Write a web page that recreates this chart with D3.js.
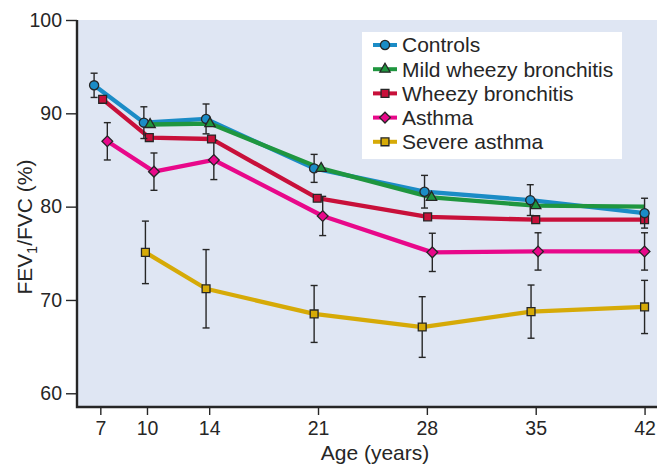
<!DOCTYPE html>
<html>
<head>
<meta charset="utf-8">
<script src="https://cdn.jsdelivr.net/npm/d3@7"></script>
<style>
  body { margin: 0; background: #fff; }
  svg { display: block; font-family: "Liberation Sans", Arial, sans-serif; }
</style>
</head>
<body>
<svg id="chart" width="667" height="468"></svg>
<script>
// tick labels
const ageTicks = [7, 10, 14, 21, 28, 35, 42];
const fevTicks = [60, 70, 80, 90, 100];

// series (ages are slightly offset per group, as in the figure)
const controlsAge = [6.6, 9.8, 13.8, 20.75, 27.85, 34.65, 42];
const controlsFev = [93.0, 89.0, 89.4, 84.1, 81.6, 80.7, 79.3];
const controlsErr = [1.3, 1.7, 1.6, 1.5, 1.75, 1.65, 1.6];

const mildAge = [10.2, 14.05, 21.2, 28.3, 35.0, 42];
const mildFev = [88.8, 88.9, 84.1, 81.0, 80.1, 80.0];
const mildShown = [true, true, true, true, true, false];

const wheezyAge = [7.15, 10.15, 14.15, 20.95, 28.05, 35, 42];
const wheezyFev = [91.5, 87.4, 87.25, 80.9, 78.9, 78.6, 78.6];

const asthmaAge = [7.45, 10.45, 14.3, 21.3, 28.35, 35.15, 42];
const asthmaFev = [87.0, 83.75, 85.0, 79.0, 75.1, 75.2, 75.2];
const asthmaErr = [2.0, 2.0, 2.1, 2.1, 2.05, 2.0, 2.0];

const severeAge = [9.9, 13.8, 20.75, 27.7, 34.7, 42];
const severeFev = [75.1, 71.2, 68.5, 67.1, 68.75, 69.25];
const severeErr = [3.35, 4.2, 3.05, 3.25, 2.85, 2.85];

const series = [
  { name: "Controls", age: controlsAge, fev: controlsFev, err: controlsErr, color: "#1b8cc6", shape: "circle" },
  { name: "Mild wheezy bronchitis", age: mildAge, fev: mildFev, err: null, shown: mildShown, color: "#1f963f", shape: "triangle" },
  { name: "Wheezy bronchitis", age: wheezyAge, fev: wheezyFev, err: null, color: "#c8103a", shape: "square" },
  { name: "Asthma", age: asthmaAge, fev: asthmaFev, err: asthmaErr, color: "#e8088a", shape: "diamond" },
  { name: "Severe asthma", age: severeAge, fev: severeFev, err: severeErr, color: "#d6aa07", shape: "square" }
];

const svg = d3.select("#chart");
const plotL = 77, plotR = 657, plotT = 20, plotB = 407;

const x = d3.scaleLinear().domain([5.5, 42.8]).range([plotL, plotR]);
const y = d3.scaleLinear().domain([58.53, 100]).range([plotB, plotT]);

const ink = "#262626";

// plot background
svg.append("rect")
  .attr("x", plotL).attr("y", plotT)
  .attr("width", plotR - plotL).attr("height", plotB - plotT)
  .attr("fill", "#dfe6f3");

function symbolPath(shape) {
  if (shape === "circle") return d3.symbol(d3.symbolCircle, 66)();
  if (shape === "triangle") return d3.symbol(d3.symbolTriangle, 46)();
  if (shape === "square") return d3.symbol(d3.symbolSquare, 62)();
  return d3.symbol(d3.symbolSquare, 58)(); // rotated below for diamond
}

const line = d3.line().x(d => x(d[0])).y(d => y(d[1]));

// lines
const lineOrder = [4, 3, 2, 0, 1];
lineOrder.forEach(i => {
  const s = series[i];
  svg.append("path")
    .datum(s.age.map((a, j) => [a, s.fev[j]]))
    .attr("d", line)
    .attr("fill", "none")
    .attr("stroke", s.color)
    .attr("stroke-width", 4.3)
    .attr("stroke-linejoin", "round");
});

// error bars and markers
const markOrder = [4, 3, 2, 0, 1];
markOrder.forEach(i => {
  const s = series[i];
  const pts = s.age.map((a, j) => ({ a: a, v: s.fev[j], e: s.err ? s.err[j] : 0, show: s.shown ? s.shown[j] : true }));
  if (s.err) {
    const g = svg.append("g").attr("stroke", ink).attr("stroke-width", 1.4);
    pts.forEach(p => {
      const cx = x(p.a);
      g.append("line").attr("x1", cx).attr("x2", cx).attr("y1", y(p.v + p.e)).attr("y2", y(p.v - p.e));
      g.append("line").attr("x1", cx - 3.5).attr("x2", cx + 3.5).attr("y1", y(p.v + p.e)).attr("y2", y(p.v + p.e));
      g.append("line").attr("x1", cx - 3.5).attr("x2", cx + 3.5).attr("y1", y(p.v - p.e)).attr("y2", y(p.v - p.e));
    });
  }
  svg.append("g").selectAll("path")
    .data(pts.filter(p => p.show))
    .join("path")
    .attr("d", symbolPath(s.shape))
    .attr("transform", p => `translate(${x(p.a)},${y(p.v)})` + (s.shape === "diamond" ? " rotate(45)" : ""))
    .attr("fill", s.color)
    .attr("stroke", ink)
    .attr("stroke-width", 1.3);
});

// axes
const xAxis = svg.append("g")
  .attr("transform", `translate(0,${plotB})`)
  .call(d3.axisBottom(x).tickValues(ageTicks).tickSize(8).tickPadding(6));
const yAxis = svg.append("g")
  .attr("transform", `translate(${plotL},0)`)
  .call(d3.axisLeft(y).tickValues(fevTicks).tickSize(11).tickPadding(4));

[xAxis, yAxis].forEach(ax => {
  ax.select(".domain").remove();
  ax.selectAll(".tick line").attr("stroke", ink).attr("stroke-width", 1.4);
  ax.selectAll(".tick text")
    .attr("fill", ink)
    .style("font-size", "19.5px")
    .style("font-family", "'Liberation Sans', Arial, sans-serif");
});

svg.append("path")
  .attr("d", `M${plotL},${plotT}V${plotB}H${plotR}`)
  .attr("fill", "none")
  .attr("stroke", ink)
  .attr("stroke-width", 2.4);

// axis titles
svg.append("text")
  .attr("x", 375).attr("y", 460)
  .attr("text-anchor", "middle")
  .attr("fill", ink)
  .style("font-size", "21px")
  .text("Age (years)");

const yt = svg.append("text")
  .attr("transform", "translate(32,227) rotate(-90)")
  .attr("text-anchor", "middle")
  .attr("fill", ink)
  .style("font-size", "21px");
yt.append("tspan").text("FEV");
yt.append("tspan").attr("dy", 5).style("font-size", "14px").text("1");
yt.append("tspan").attr("dy", -5).text("/FVC (%)");

// legend
const lg = svg.append("g");
lg.append("rect")
  .attr("x", 362).attr("y", 32)
  .attr("width", 260).attr("height", 127)
  .attr("fill", "#fff");

series.forEach((s, i) => {
  const cy = 45 + i * 24.2;
  lg.append("line")
    .attr("x1", 373).attr("x2", 397).attr("y1", cy).attr("y2", cy)
    .attr("stroke", s.color).attr("stroke-width", 4);
  lg.append("path")
    .attr("d", symbolPath(s.shape))
    .attr("transform", `translate(385,${cy})` + (s.shape === "diamond" ? " rotate(45)" : ""))
    .attr("fill", s.color)
    .attr("stroke", ink)
    .attr("stroke-width", 1.3);
  lg.append("text")
    .attr("x", 402).attr("y", cy)
    .attr("dy", "0.35em")
    .attr("fill", ink)
    .style("font-size", "21px")
    .text(s.name);
});
</script>
</body>
</html>
